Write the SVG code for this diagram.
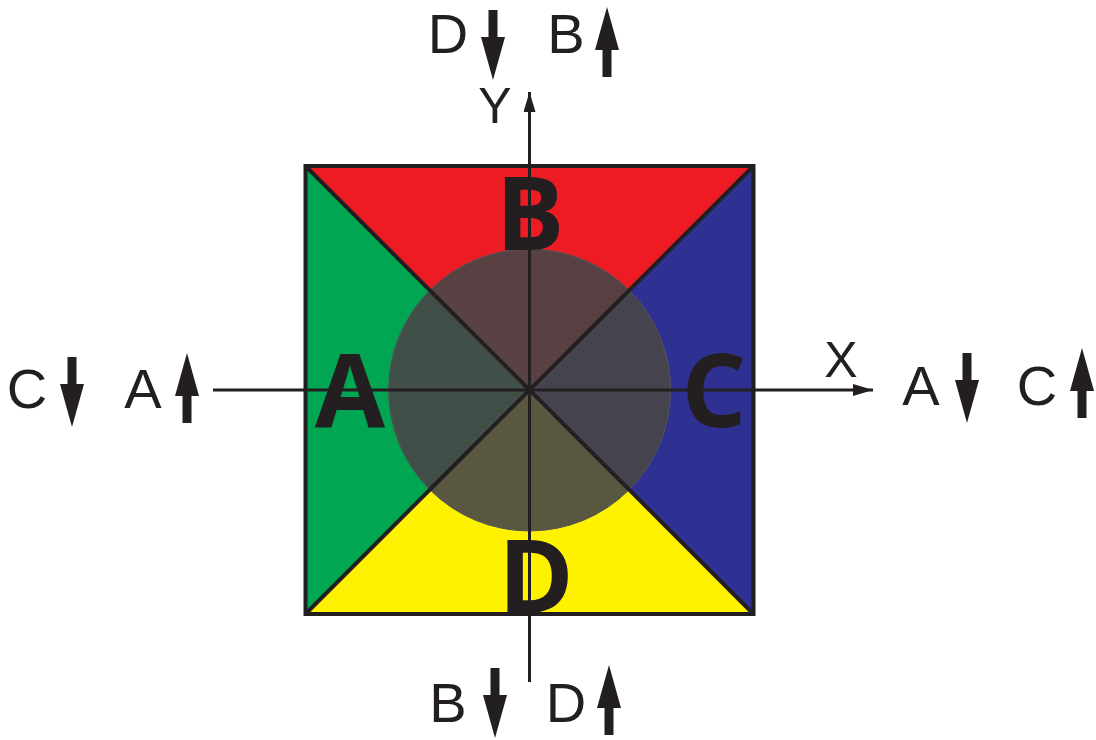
<svg xmlns="http://www.w3.org/2000/svg" width="1096" height="740" viewBox="0 0 1096 740">
<style>
.ln{stroke:#231F20;stroke-width:4;fill:none;stroke-linecap:butt}
.ax{stroke:#231F20;stroke-width:3;fill:none}
.big{font-family:"Open Sans","Liberation Sans",sans-serif;font-weight:700;font-size:102px;fill:#231F20;text-anchor:middle}
.lbl{font-family:"Liberation Sans","Open Sans",sans-serif;font-weight:400;font-size:56px;fill:#231F20;text-anchor:middle}
.axl{font-family:"Liberation Sans","Open Sans",sans-serif;font-weight:400;font-size:50px;fill:#231F20;text-anchor:middle}
.arr{fill:#231F20}
</style>
<defs>
<path id="dn" d="M-4.5,-70 H4.5 V-43 H12 L0,0 L-12,-43 H-4.5 Z"/>
<path id="up" d="M-4.5,70 H4.5 V43 H12 L0,0 L-12,43 H-4.5 Z"/>
<marker id="ah" markerUnits="userSpaceOnUse" viewBox="0 0 20 12" refX="20" refY="6" markerWidth="20" markerHeight="12" orient="auto">
<path d="M0,0 L20,6 L0,12 Z" fill="#231F20"/>
</marker>
</defs>
<g id="quadrants">
<polygon id="quad-B" points="305.5,166 753.5,166 529.5,390" fill="#ED1C24"/>
<polygon id="quad-C" points="753.5,166 753.5,614 529.5,390" fill="#2E3192"/>
<polygon id="quad-D" points="753.5,614 305.5,614 529.5,390" fill="#FFF200"/>
<polygon id="quad-A" points="305.5,614 305.5,166 529.5,390" fill="#00A651"/>
</g>
<g id="circle">
<circle cx="529.5" cy="390" r="141" fill="#474647" fill-opacity="0.9" stroke="#555" stroke-width="1"/>
</g>
<g id="square">
<line class="ln" x1="305.5" y1="166" x2="753.5" y2="614"/>
<line class="ln" x1="753.5" y1="166" x2="305.5" y2="614"/>
<rect class="ln" x="305.5" y="166" width="448" height="448"/>
</g>
<g id="big-labels">
<text class="big" x="530" y="250">B</text>
<text class="big" x="350" y="427">A</text>
<text class="big" x="714" y="427">C</text>
<text class="big" x="536" y="613">D</text>
</g>
<g id="connectors">
<line id="x-axis" class="ax" x1="213" y1="390" x2="873" y2="390" marker-end="url(#ah)"/>
<line id="y-axis" class="ax" x1="529.5" y1="682" x2="529.5" y2="92" marker-end="url(#ah)"/>
</g>
<g id="axis-labels">
<text class="axl" x="841" y="377">X</text>
<text class="axl" x="495" y="123">Y</text>
</g>
<g id="top-labels">
<text class="lbl" x="448" y="53">D</text>
<use href="#dn" class="arr" x="493" y="80"/>
<text class="lbl" x="566" y="53">B</text>
<use href="#up" class="arr" x="607" y="7"/>
</g>
<g id="left-labels">
<text class="lbl" x="27" y="408">C</text>
<use href="#dn" class="arr" x="72" y="427"/>
<text class="lbl" x="143" y="408">A</text>
<use href="#up" class="arr" x="187" y="353"/>
</g>
<g id="right-labels">
<text class="lbl" x="921" y="405">A</text>
<use href="#dn" class="arr" x="967" y="423"/>
<text class="lbl" x="1037" y="405">C</text>
<use href="#up" class="arr" x="1082" y="348"/>
</g>
<g id="bottom-labels">
<text class="lbl" x="448" y="722">B</text>
<use href="#dn" class="arr" x="495" y="738"/>
<text class="lbl" x="566" y="722">D</text>
<use href="#up" class="arr" x="609" y="665"/>
</g>
</svg>
